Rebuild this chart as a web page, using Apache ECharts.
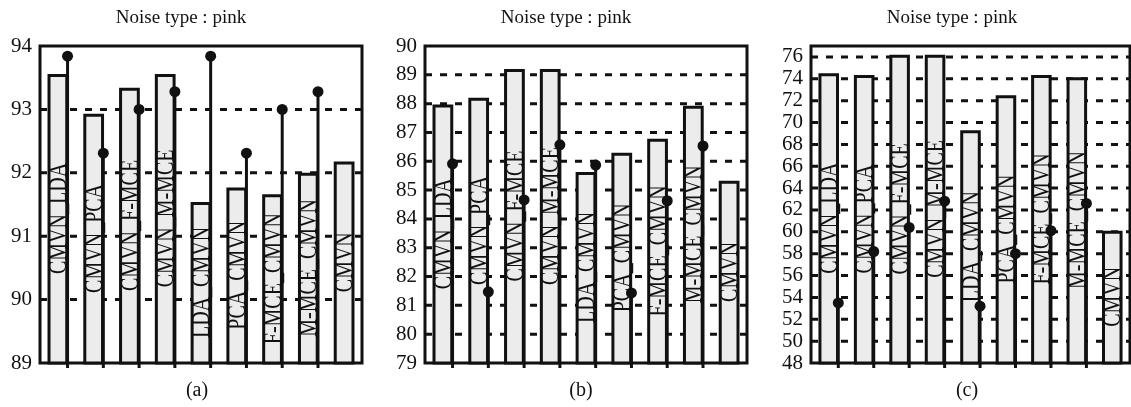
<!DOCTYPE html>
<html>
<head>
<meta charset="utf-8">
<script src="https://cdn.jsdelivr.net/npm/echarts@6/dist/echarts.min.js"></script>
<style>
  html, body { margin: 0; padding: 0; background: #fff; }
  #chart { width: 1131px; height: 407px; }
</style>
</head>
<body>
<div id="chart"></div>
<script>
// Feature pipelines compared on pink noise
const categories = ['CMVN_LDA', 'CMVN_PCA', 'CMVN_F-MCE', 'CMVN_M-MCE', 'LDA_CMVN', 'PCA_CMVN', 'F-MCE_CMVN', 'M-MCE_CMVN', 'CMVN'];

// (a) bar heights and stem-dot values
const barsA = [93.56, 92.93, 93.34, 93.56, 91.54, 91.77, 91.66, 92.00, 92.18];
const dotsA = [93.84, 92.31, 93.00, 93.28, 93.84, 92.31, 93.00, 93.28, null];

// (b)
const barsB = [87.97, 88.20, 89.20, 89.20, 85.63, 86.30, 86.78, 87.93, 85.32];
const dotsB = [85.91, 81.47, 84.66, 86.57, 85.87, 81.43, 84.63, 86.53, null];

// (c)
const barsC = [74.50, 74.35, 76.20, 76.20, 69.30, 72.50, 74.35, 74.15, 60.10];
const dotsC = [53.5, 58.2, 60.4, 62.8, 53.2, 58.0, 60.1, 62.6, null];

// value-axis ranges: [min, max, step]
const rangeA = [89, 94, 1];
const rangeB = [79, 90, 1];
const rangeC = [48, 77, 2];

const titleText = 'Noise type : pink';
const panelNames = ['(a)', '(b)', '(c)'];

const FONT = '"Liberation Serif", "Times New Roman", serif';
const INK = '#111';

const panels = [
  { bars: barsA, dots: dotsA, range: rangeA, grid: { left: 40, top: 46, width: 322, height: 317 }, titleX: 181, capX: 197 },
  { bars: barsB, dots: dotsB, range: rangeB, grid: { left: 425, top: 46, width: 322, height: 317 }, titleX: 566, capX: 581 },
  { bars: barsC, dots: dotsC, range: rangeC, grid: { left: 811, top: 46, width: 319, height: 317 }, titleX: 952, capX: 967 }
];

const grid = [], xAxis = [], yAxis = [], series = [], title = [];

panels.forEach((p, k) => {
  const yMin = p.range[0];
  grid.push(Object.assign({ show: true, borderColor: INK, borderWidth: 3, backgroundColor: 'transparent' }, p.grid));

  xAxis.push({
    type: 'category', gridIndex: k, data: categories,
    axisLine: { show: false }, axisTick: { show: false }, axisLabel: { show: false },
    splitLine: { show: false }
  });

  yAxis.push({
    type: 'value', gridIndex: k,
    min: p.range[0], max: p.range[1], interval: p.range[2],
    axisLine: { show: false },
    axisTick: { show: false },
    axisLabel: { color: INK, fontFamily: FONT, fontSize: 21, margin: 8, showMaxLabel: p.range[1] % p.range[2] === 0 },
    splitLine: { show: false }
  });

  // dashed guide lines at every tick value, kept underneath the bars
  const ticks = [];
  for (let v = p.range[0] + p.range[2]; v < p.range[1]; v += p.range[2]) ticks.push(v);
  series.push({
    type: 'custom', xAxisIndex: k, yAxisIndex: k, z: 1, silent: true,
    data: ticks.map(v => [0, v]),
    encode: { y: 1 },
    renderItem: function (params, api) {
      const cs = params.coordSys;
      const y = api.coord([0, api.value(1)])[1];
      return {
        type: 'line',
        shape: { x1: cs.x, y1: y, x2: cs.x + cs.width, y2: y },
        style: { stroke: INK, lineWidth: 3, lineDash: [7, 8] }
      };
    }
  });

  // bars
  series.push({
    type: 'bar', xAxisIndex: k, yAxisIndex: k,
    data: p.bars, barWidth: '58%',
    itemStyle: { color: '#ececec', borderColor: INK, borderWidth: 3, opacity: 1 },
    silent: true, z: 5
  });

  // category names written vertically inside each bar
  series.push({
    type: 'custom', xAxisIndex: k, yAxisIndex: k, z: 6, silent: true,
    data: p.bars.map((v, i) => [i, v]),
    encode: { x: 0, y: 1 },
    renderItem: function (params, api) {
      const idx = api.value(0);
      const top = api.coord([idx, api.value(1)]);
      const base = api.coord([idx, yMin]);
      return {
        type: 'text',
        x: top[0] + 1.5,
        y: (top[1] + base[1]) / 2,
        rotation: Math.PI / 2,
        scaleX: 0.8,
        style: {
          text: categories[idx], fill: INK,
          fontFamily: FONT, fontSize: 25,
          align: 'center', verticalAlign: 'middle'
        }
      };
    }
  });

  // stems with a dot at the top, at the right edge of each bar
  series.push({
    type: 'custom', xAxisIndex: k, yAxisIndex: k, z: 7, silent: true,
    data: p.dots.map((v, i) => [i, v]).filter(d => d[1] != null),
    encode: { x: 0, y: 1 },
    renderItem: function (params, api) {
      const idx = api.value(0);
      const top = api.coord([idx, api.value(1)]);
      const base = api.coord([idx, yMin]);
      const band = api.size([1, 0])[0];
      const x = top[0] + band * 0.27;
      return {
        type: 'group',
        children: [
          { type: 'line', shape: { x1: x, y1: top[1], x2: x, y2: base[1] + 5 }, style: { stroke: INK, lineWidth: 3 } },
          { type: 'circle', shape: { cx: x, cy: top[1], r: 5.5 }, style: { fill: INK } }
        ]
      };
    }
  });

  title.push({
    text: titleText, left: p.titleX, top: 9, textAlign: 'center', padding: 0,
    textStyle: { color: INK, fontFamily: FONT, fontSize: 19, fontWeight: 'normal' }
  });
  title.push({
    text: panelNames[k], left: p.capX, top: 381, textAlign: 'center', padding: 0,
    textStyle: { color: INK, fontFamily: FONT, fontSize: 20, fontWeight: 'normal' }
  });
});

const chart = echarts.init(document.getElementById('chart'), null, { renderer: 'canvas' });
chart.setOption({
  backgroundColor: '#fff',
  animation: false,
  title: title,
  grid: grid,
  xAxis: xAxis,
  yAxis: yAxis,
  series: series
});
</script>
</body>
</html>
